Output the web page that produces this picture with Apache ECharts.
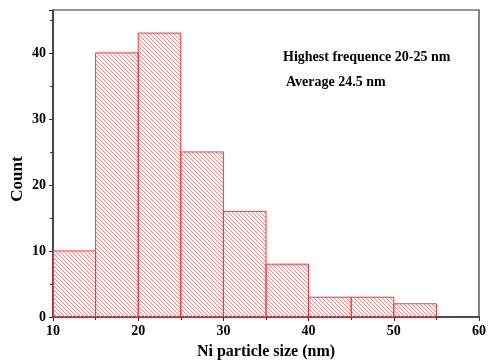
<!DOCTYPE html>
<html>
<head>
<meta charset="utf-8">
<script src="https://cdn.jsdelivr.net/npm/echarts@6/dist/echarts.min.js"></script>
<style>
  html, body { margin: 0; padding: 0; background: #fff; }
  #main { width: 488px; height: 364px; }
</style>
</head>
<body>
<div id="main"></div>
<script>
// histogram bins (nm) and counts
var binStart = [10, 15, 20, 25, 30, 35, 40, 45, 50];
var binEnd = [15, 20, 25, 30, 35, 40, 45, 50, 55];
var counts = [10, 40, 43, 25, 16, 8, 3, 3, 2];
var xTicks = [10, 20, 30, 40, 50, 60];
var yTicks = [0, 10, 20, 30, 40];

var chart = echarts.init(document.getElementById('main'));

// diagonal hatch pattern
var tile = document.createElement('canvas');
tile.width = 4;
tile.height = 4;
var ctx = tile.getContext('2d');
ctx.strokeStyle = '#ff8c8c';
ctx.lineWidth = 1;
ctx.beginPath();
ctx.moveTo(-1, -1); ctx.lineTo(5, 5);
ctx.moveTo(-1, 3); ctx.lineTo(1, 5);
ctx.moveTo(3, -1); ctx.lineTo(5, 1);
ctx.stroke();
var hatch = { image: tile, repeat: 'repeat' };

var data = binStart.map(function (s, i) { return [s, binEnd[i], counts[i]]; });
var serif = "'Liberation Serif', 'Times New Roman', serif";

var option = {
    backgroundColor: '#fff',
    animation: false,
    grid: {
        left: 53, right: 9, top: 10, bottom: 47,
        outerBoundsMode: 'none',
        containLabel: false,
        show: true, borderColor: '#333', borderWidth: 1.2
    },
    xAxis: {
        type: 'value',
        min: 10, max: 60, interval: 10,
        name: 'Ni particle size (nm)',
        nameLocation: 'middle',
        nameGap: 27,
        nameTextStyle: { fontFamily: serif, fontWeight: 'bold', fontSize: 16, color: '#000' },
        axisLine: { show: true, lineStyle: { color: '#333', width: 1.5 } },
        axisTick: { show: true, length: 4, lineStyle: { color: '#333' } },
        minorTick: { show: true, splitNumber: 2, length: 3, lineStyle: { color: '#333' } },
        splitLine: { show: false },
        axisLabel: {
            fontFamily: serif, fontWeight: 'bold', fontSize: 14, color: '#000', margin: 7,
            formatter: function (v) { return xTicks.indexOf(v) >= 0 ? v : ''; }
        }
    },
    yAxis: {
        type: 'value',
        min: 0, max: 46.5, interval: 10,
        axisLine: { show: true, lineStyle: { color: '#333', width: 1.5 } },
        axisTick: { show: true, length: 4, lineStyle: { color: '#333' } },
        minorTick: { show: true, splitNumber: 2, length: 3, lineStyle: { color: '#333' } },
        splitLine: { show: false },
        axisLabel: {
            fontFamily: serif, fontWeight: 'bold', fontSize: 14, color: '#000', margin: 7,
            showMaxLabel: false,
            formatter: function (v) { return yTicks.indexOf(v) >= 0 ? v : ''; }
        }
    },
    graphic: [
        { type: 'text', x: 18, y: 179, rotation: Math.PI / 2,
          style: { text: 'Count', font: 'bold 17px ' + serif, fill: '#000',
                   align: 'center', verticalAlign: 'middle' } },
        { type: 'text', left: 283, top: 50,
          style: { text: 'Highest frequence 20-25 nm', font: 'bold 14px ' + serif, fill: '#000' } },
        { type: 'text', left: 286, top: 75,
          style: { text: 'Average 24.5 nm', font: 'bold 14px ' + serif, fill: '#000' } }
    ],
    series: [{
        type: 'custom',
        data: data,
        encode: { x: [0, 1], y: 2 },
        renderItem: function (params, api) {
            var p0 = api.coord([api.value(0), api.value(2)]);
            var p1 = api.coord([api.value(1), 0]);
            return {
                type: 'rect',
                shape: { x: p0[0], y: p0[1], width: p1[0] - p0[0], height: p1[1] - p0[1] },
                style: { fill: hatch, stroke: '#ff3030', lineWidth: 1 }
            };
        }
    }]
};
chart.setOption(option);
</script>
</body>
</html>
